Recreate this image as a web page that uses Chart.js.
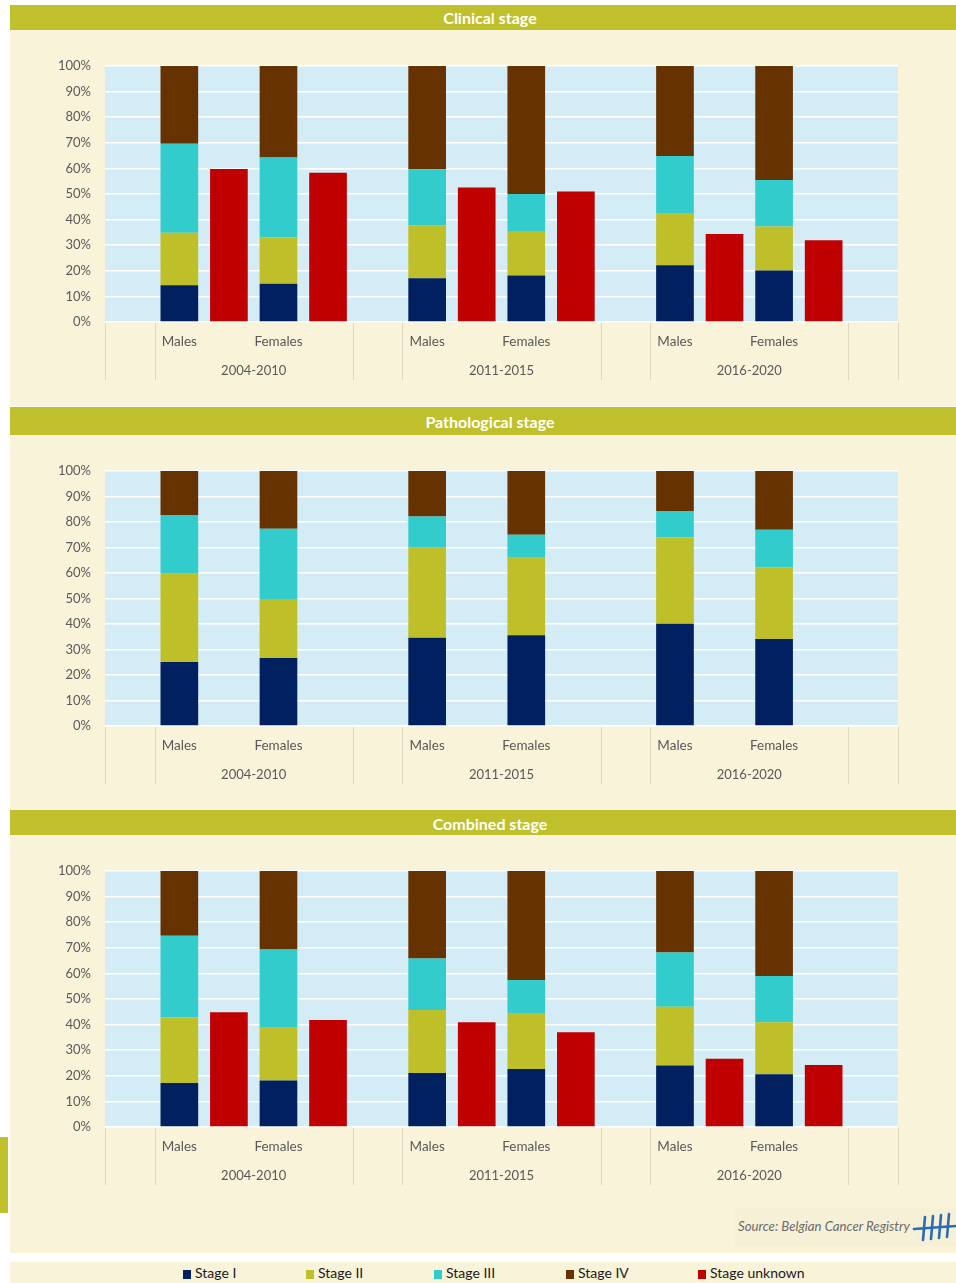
<!DOCTYPE html>
<html><head><meta charset="utf-8">
<script src="https://cdn.jsdelivr.net/npm/chart.js@4.4.1/dist/chart.umd.min.js"></script>
<style>
html,body{margin:0;padding:0;background:#fff;width:956px;height:1283px;overflow:hidden;font-family:Lato,'Open Sans',sans-serif;}
.abs{position:absolute;}
.cream{background:#F8F3D9;left:10px;width:946px;}
.hdr{background:#BFC02B;color:#fff;font-weight:bold;font-size:16px;text-align:center;left:10px;width:960px;}
canvas{position:absolute;left:10px;}
.leg{position:absolute;top:1262px;height:21px;line-height:21px;font-size:14px;color:#1a1a1a;white-space:nowrap;}
.leg span.box{display:inline-block;width:8px;height:9px;margin-right:4px;vertical-align:-1px;}
</style></head><body>
<div class="abs hdr" style="top:5px;height:25px;line-height:26px;">Clinical stage</div>
<div class="abs cream" style="top:30px;height:376px;"></div>
<canvas id="c1" width="946" height="376" style="top:30px"></canvas>

<div class="abs hdr" style="top:407px;height:28px;line-height:30px;">Pathological stage</div>
<div class="abs cream" style="top:435px;height:375px;"></div>
<canvas id="c2" width="946" height="375" style="top:435px"></canvas>

<div class="abs hdr" style="top:810px;height:25px;line-height:27px;">Combined stage</div>
<div class="abs cream" style="top:835px;height:418px;"></div>
<canvas id="c3" width="946" height="418" style="top:835px"></canvas>
<div class="abs" style="left:0;top:1137px;width:8px;height:76px;background:#BFC02B;"></div>
<div class="abs" style="left:735px;top:1208px;width:221px;height:38px;background:#F5F0D6;"></div>
<div class="abs" style="left:738px;top:1218px;font-size:13.2px;font-style:italic;color:#6b6b6b;">Source: Belgian Cancer Registry</div>
<svg class="abs" style="left:912px;top:1212px" width="44" height="32">
  <g stroke="#2A6BB8" stroke-width="2.6" stroke-linecap="round" fill="none">
    <line x1="2" y1="17" x2="44" y2="14"/>
    <line x1="13" y1="5" x2="11" y2="28"/>
    <line x1="21" y1="4" x2="19" y2="27"/>
    <line x1="29" y1="3" x2="27" y2="26"/>
    <line x1="37" y1="2" x2="35" y2="25"/>
  </g>
</svg>

<div class="abs" style="left:10px;top:1262px;width:946px;height:21px;background:#F8F3D9;"></div>
<div id="legend"></div>

<script>
// ---- categories ----
const periods = ['2004-2010', '2011-2015', '2016-2020'];
const sexes = ['Males', 'Females'];
const stageNames = ['Stage I', 'Stage II', 'Stage III', 'Stage IV', 'Stage unknown'];
const stageColors = ['#002060', '#BFBF2A', '#33CCCC', '#663300', '#C00000'];
const yTicks = [0, 10, 20, 30, 40, 50, 60, 70, 80, 90, 100];

// ---- values (%), order: M 2004-10, F 2004-10, M 2011-15, F 2011-15, M 2016-20, F 2016-20 ----
const clinicalStageI   = [14.4, 14.9, 17.1, 18.2, 22.2, 20.1];
const clinicalStageII  = [20.5, 18.1, 20.7, 17.3, 20.1, 17.2];
const clinicalStageIII = [34.7, 31.3, 21.9, 14.5, 22.5, 18.2];
const clinicalStageIV  = [30.4, 35.7, 40.3, 50.0, 35.2, 44.5];
const clinicalUnknown  = [59.8, 58.3, 52.5, 51.0, 34.4, 31.9];

const pathStageI   = [25.1, 26.7, 34.6, 35.6, 40.1, 34.1];
const pathStageII  = [34.6, 23.1, 35.3, 30.4, 33.8, 28.1];
const pathStageIII = [23.0, 27.6, 12.3,  9.0, 10.4, 14.8];
const pathStageIV  = [17.3, 22.6, 17.8, 25.0, 15.7, 23.0];

const combStageI   = [17.2, 18.2, 21.1, 22.7, 24.0, 20.6];
const combStageII  = [25.6, 20.6, 24.6, 21.8, 23.0, 20.3];
const combStageIII = [31.9, 30.5, 20.1, 12.9, 21.2, 18.1];
const combStageIV  = [25.3, 30.7, 34.2, 42.6, 31.8, 41.0];
const combUnknown  = [44.8, 41.8, 40.9, 37.0, 26.7, 24.2];

// ---- slot structure: empty, [M stack, M unknown, F stack, F unknown] x3 separated by empty ----
const slots = [null];
periods.forEach((p, pi) => {
  sexes.forEach((s, si) => {
    slots.push({p: pi, s: si, kind: 'stack'});
    slots.push({p: pi, s: si, kind: 'unknown'});
  });
  slots.push(null);
});
const slotLabels = slots.map((s, i) => s ? periods[s.p] + ' ' + sexes[s.s] + ' ' + s.kind : 'gap' + i);

const xLabelsPlugin = {
  id: 'xlabels',
  beforeDraw(chart) {
    const {ctx, chartArea: a} = chart;
    ctx.save();
    ctx.fillStyle = '#D3ECF6';
    ctx.fillRect(a.left, a.top, a.right - a.left, a.bottom - a.top);
    ctx.restore();
  },
  afterDraw(chart) {
    const {ctx, chartArea: a, scales: {x}} = chart;
    const slotW = x.getPixelForValue(1) - x.getPixelForValue(0);
    ctx.save();
    ctx.strokeStyle = '#DDD8C2';
    ctx.lineWidth = 1;
    slots.forEach((s, i) => {
      if (s === null) {
        const c = x.getPixelForValue(i);
        [c - slotW / 2, c + slotW / 2].forEach(px => {
          const xx = Math.round(px) + 0.5;
          ctx.beginPath();
          ctx.moveTo(xx, a.bottom + 1);
          ctx.lineTo(xx, a.bottom + 58);
          ctx.stroke();
        });
      }
    });
    ctx.fillStyle = '#595959';
    ctx.textAlign = 'center';
    ctx.textBaseline = 'middle';
    ctx.font = '13.5px Lato';
    slots.forEach((s, i) => {
      if (s && s.kind === 'stack') ctx.fillText(sexes[s.s], x.getPixelForValue(i), a.bottom + 20);
    });
    ctx.font = '13px Lato';
    periods.forEach((p, pi) => {
      const idx = slots.findIndex(s => s && s.p === pi);
      const c = (x.getPixelForValue(idx) + x.getPixelForValue(idx + 3)) / 2;
      ctx.fillText(p, c, a.bottom + 49);
    });
    ctx.restore();
  }
};

function expand(arr, kind) {
  return slots.map(s => (s && s.kind === kind) ? arr[s.p * 2 + s.s] : null);
}

function makeChart(id, stages, unknown, bottomPad) {
  const datasets = stages.map((arr, k) => ({
    label: stageNames[k], data: expand(arr, 'stack'), backgroundColor: stageColors[k]
  }));
  if (unknown) datasets.push({label: stageNames[4], data: expand(unknown, 'unknown'), backgroundColor: stageColors[4]});
  new Chart(document.getElementById(id), {
    type: 'bar',
    data: {labels: slotLabels, datasets},
    options: {
      responsive: false, animation: false,
      layout: {padding: {left: 0, right: 58, top: 36, bottom: bottomPad}},
      datasets: {bar: {barPercentage: 0.76, categoryPercentage: 1, borderWidth: 0}},
      plugins: {legend: {display: false}, tooltip: {enabled: false}},
      scales: {
        x: {display: false, stacked: true},
        y: {
          stacked: true, min: 0, max: 100,
          afterFit: s => { s.width = 95; },
          border: {display: false},
          grid: {color: '#ffffff', lineWidth: 1.5, drawTicks: false},
          afterBuildTicks: s => { s.ticks = yTicks.map(v => ({value: v})); },
          ticks: {padding: 14, color: '#595959', font: {family: 'Lato', size: 13}, callback: v => v + '%'}
        }
      }
    },
    plugins: [xLabelsPlugin]
  });
}

makeChart('c1', [clinicalStageI, clinicalStageII, clinicalStageIII, clinicalStageIV], clinicalUnknown, 84);
makeChart('c2', [pathStageI, pathStageII, pathStageIII, pathStageIV], null, 84);
makeChart('c3', [combStageI, combStageII, combStageIII, combStageIV], combUnknown, 126);

// legend
const legendX = [183, 306, 434, 566, 698];
const leg = document.getElementById('legend');
stageNames.forEach((n, k) => {
  const d = document.createElement('div');
  d.className = 'leg';
  d.style.left = legendX[k] + 'px';
  d.innerHTML = '<span class="box" style="background:' + stageColors[k] + '"></span>' + n;
  leg.appendChild(d);
});
</script>
</body></html>
